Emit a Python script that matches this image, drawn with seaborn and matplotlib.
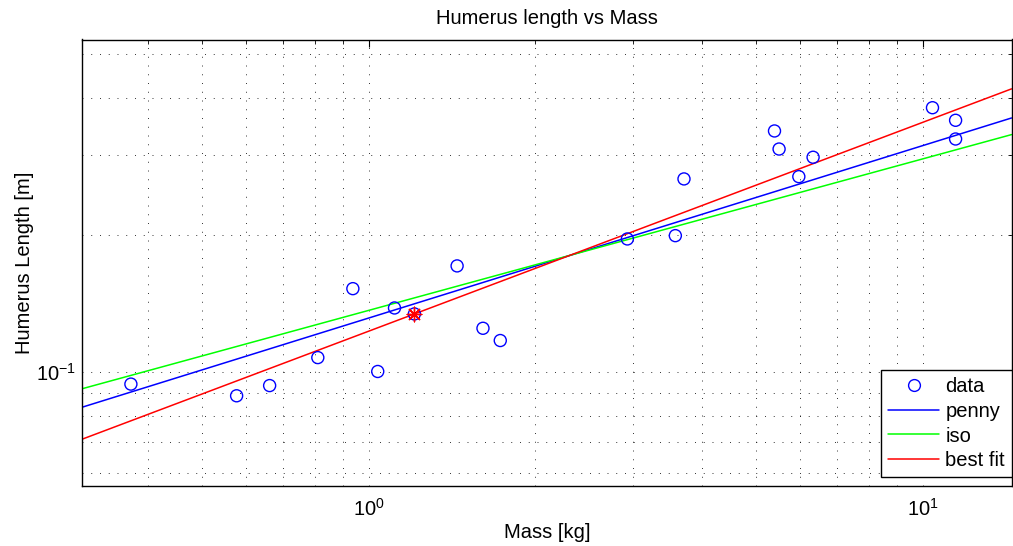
import matplotlib
matplotlib.use('Agg')
import matplotlib.pyplot as plt
import seaborn as sns
import pandas as pd
from matplotlib.ticker import LogLocator, NullFormatter
from matplotlib.lines import Line2D

# ---- data ----
mass_kg = [0.3725, 0.578, 0.663, 0.810, 0.937, 1.039, 1.114, 1.210, 1.445, 1.609, 1.729,
           2.932, 3.579, 3.710, 5.404, 5.508, 5.979, 6.344, 10.42, 11.47, 11.47]
humerus_m = [0.0940, 0.0886, 0.0933, 0.1075, 0.1524, 0.1002, 0.1382, 0.1341, 0.1710, 0.1247, 0.1172,
             0.1960, 0.1993, 0.2656, 0.3386, 0.3090, 0.2687, 0.2964, 0.3809, 0.3574, 0.3251]

fit_mass = [0.304, 14.47]
penny_len = [0.0836, 0.3616]
iso_len = [0.0918, 0.3324]
best_len = [0.0711, 0.4190]

mean_mass = [1.21]
mean_len = [0.1343]

legend_labels = ['data', 'penny', 'iso', 'best fit']

sns.set_theme(style='white')
plt.rcParams['font.family'] = ['Liberation Sans', 'DejaVu Sans']
plt.rcParams['mathtext.fontset'] = 'custom'
plt.rcParams['mathtext.rm'] = 'Liberation Sans'
plt.rcParams['mathtext.it'] = 'Liberation Sans:italic'
plt.rcParams['text.color'] = 'black'
plt.rcParams['axes.labelcolor'] = 'black'
plt.rcParams['xtick.color'] = 'black'
plt.rcParams['ytick.color'] = 'black'

W, H = 1013, 546
fig = plt.figure(figsize=(W / 100, H / 100), dpi=100)
left, right, top, bottom = 82, 1012, 39.5, 485.7
ax = fig.add_axes([left / W, 1 - bottom / H, (right - left) / W, (bottom - top) / H])

df = pd.DataFrame({'mass': mass_kg, 'len': humerus_m})
sns.scatterplot(data=df, x='mass', y='len', ax=ax, marker='o', s=75,
                facecolor='none', edgecolor='blue', linewidth=1.0, zorder=3)

sns.lineplot(x=fit_mass, y=penny_len, ax=ax, color='blue', lw=1.1, zorder=2)
sns.lineplot(x=fit_mass, y=iso_len, ax=ax, color=(0, 1, 0), lw=1.1, zorder=2)
sns.lineplot(x=fit_mass, y=best_len, ax=ax, color='red', lw=1.1, zorder=2)
sns.scatterplot(x=mean_mass, y=mean_len, ax=ax, marker=(8, 2, 0), s=110,
                color='red', edgecolor='red', linewidth=1.0, zorder=4)

ax.set_xscale('log')
ax.set_yscale('log')
ax.set_xlim(0.304, 14.5)
ax.set_ylim(0.0562, 0.538)

for axis in (ax.xaxis, ax.yaxis):
    axis.set_major_locator(LogLocator(base=10))
    axis.set_minor_locator(LogLocator(base=10, subs=range(2, 10)))
    axis.set_minor_formatter(NullFormatter())

ax.grid(True, which='both', color='black', linestyle=(0, (1, 8)), linewidth=0.7, alpha=0.8)
ax.tick_params(which='both', direction='in', top=True, right=True, labelsize=14.5,
               color='black')
ax.tick_params(axis='x', which='both', pad=9)
ax.tick_params(axis='y', which='both', pad=4.5)
ax.tick_params(which='major', length=5, width=0.8)
ax.tick_params(which='minor', length=3, width=0.6)
for s in ax.spines.values():
    s.set_color('black')
    s.set_linewidth(1.0)

ax.set_title('Humerus length vs Mass', fontsize=14.5, pad=11)
ax.set_xlabel('Mass [kg]', fontsize=14.5, labelpad=2)
ax.set_ylabel('Humerus Length [m]', fontsize=14.5, labelpad=1)

handles = [Line2D([], [], marker='o', ls='none', mfc='none', mec='blue', ms=8.5, mew=1.0),
           Line2D([], [], color='blue', lw=1.1),
           Line2D([], [], color=(0, 1, 0), lw=1.1),
           Line2D([], [], color='red', lw=1.1)]
leg = ax.legend(handles, legend_labels, loc='lower right', bbox_to_anchor=(1.0, 0.019),
                borderaxespad=0, fontsize=14.5, frameon=True, fancybox=False,
                edgecolor='black', framealpha=1, handlelength=2.55, handletextpad=0.3,
                labelspacing=0.28, borderpad=0.35)
leg.get_frame().set_linewidth(1.0)

fig.savefig('out.png', dpi=100)
